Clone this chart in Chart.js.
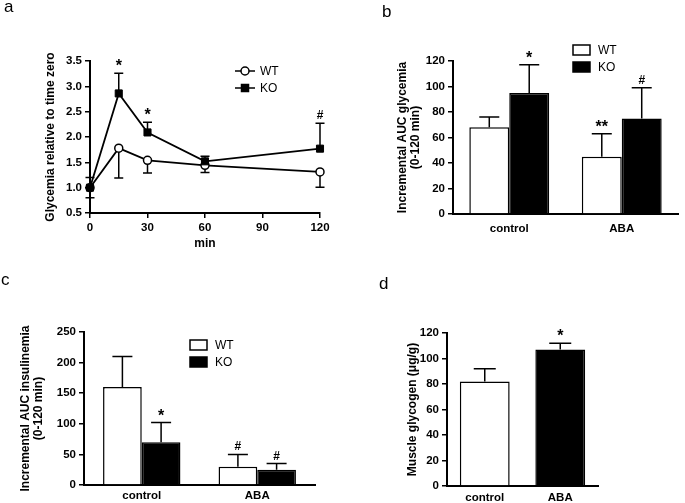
<!DOCTYPE html>
<html>
<head>
<meta charset="utf-8">
<script src="https://cdn.jsdelivr.net/npm/chart.js"></script>
<style>
  html, body { margin: 0; padding: 0; background: #fff; }
  body { width: 685px; height: 503px; position: relative; overflow: hidden; font-family: 'Liberation Sans', Arial, sans-serif; }
  canvas.panel { position: absolute; }
  .letter { position: absolute; font-size: 17px; line-height: 1; color: #000; }
</style>
</head>
<body>
<canvas id="chartA" class="panel" width="340" height="250" style="left:0;top:0"></canvas>
<canvas id="chartB" class="panel" width="345" height="250" style="left:340px;top:0"></canvas>
<canvas id="chartC" class="panel" width="340" height="253" style="left:0;top:250px"></canvas>
<canvas id="chartD" class="panel" width="285" height="253" style="left:400px;top:250px"></canvas>
<div class="letter" style="left:4px;top:-2px">a</div>
<div class="letter" style="left:382px;top:3px">b</div>
<div class="letter" style="left:1px;top:271px">c</div>
<div class="letter" style="left:379px;top:275px">d</div>
<script>
 "use strict";

 // ---- data ----
 // a: glycemia time course
 var minutes = [0, 15, 30, 60, 120];
 var glyWT = [1.0, 1.78, 1.54, 1.44, 1.31];
 var glyWTErr = [0.2, 0.59, 0.25, 0.14, 0.30];
 var glyKO = [1.0, 2.86, 2.09, 1.52, 1.77];
 var glyKOErr = [0.2, 0.40, 0.20, 0.10, 0.50];
 var glyKOMarks = ['', '*', '*', '', '#'];

 // b, c, d: groups
 var groups = ['control', 'ABA'];
 var aucGlyWT = [68, 45];
 var aucGlyWTErr = [8, 18];
 var aucGlyWTMarks = ['', '**'];
 var aucGlyKO = [95, 75];
 var aucGlyKOErr = [22, 24];
 var aucGlyKOMarks = ['*', '#'];

 var aucInsWT = [160, 30];
 var aucInsWTErr = [50, 20];
 var aucInsWTMarks = ['', '#'];
 var aucInsKO = [70, 25];
 var aucInsKOErr = [32, 10];
 var aucInsKOMarks = ['*', '#'];

 var glycogen = [82, 107];
 var glycogenErr = [10, 5];
 var glycogenMarks = ['', '*'];

 var FONT = "'Liberation Sans', Arial, sans-serif";
 var tickFont = { family: FONT, size: 11.5, weight: 'bold' };
 var titleFont = { family: FONT, size: 12, weight: 'bold', lineHeight: 1.1 };

 /*----------------------------------------*/
 /*  plugins: error bars, marks, legend
 /*----------------------------------------*/
 function valueOf(v) { return (v !== null && typeof v === 'object') ? v.y : v; }

 var errorBars = {
	id: 'errorBars',
	beforeDatasetsDraw: function (chart, args, opts) {
		var ctx = chart.ctx, y = chart.scales.y;
		chart.data.datasets.forEach(function (ds, i) {
			if (!ds.errors) return;
			var meta = chart.getDatasetMeta(i);
			ctx.save();
			ctx.strokeStyle = '#000';
			ctx.lineWidth = 1.5;
			meta.data.forEach(function (el, j) {
				var err = ds.errors[j];
				if (!err) return;
				var val = valueOf(ds.data[j]);
				var end = ds.errorDir === 'down' ? val - err : val + err;
				var py = y.getPixelForValue(end), base = y.getPixelForValue(val);
				var half = opts.cap / 2;
				ctx.beginPath();
				ctx.moveTo(el.x, base); ctx.lineTo(el.x, py);
				ctx.moveTo(el.x - half, py); ctx.lineTo(el.x + half, py);
				ctx.stroke();
			});
			ctx.restore();
		});
	}
 };

 var sigMarks = {
	id: 'sigMarks',
	afterDatasetsDraw: function (chart) {
		var ctx = chart.ctx, y = chart.scales.y;
		chart.data.datasets.forEach(function (ds, i) {
			if (!ds.marks) return;
			var meta = chart.getDatasetMeta(i);
			ctx.save();
			ctx.fillStyle = '#000';
			ctx.textAlign = 'center';
			ctx.textBaseline = 'alphabetic';
			meta.data.forEach(function (el, j) {
				var m = ds.marks[j];
				if (!m) return;
				var val = valueOf(ds.data[j]);
				var top = ds.errorDir === 'down' ? val : val + (ds.errors ? ds.errors[j] : 0);
				var star = m.indexOf('*') >= 0;
				ctx.font = star ? 'bold 16px ' + FONT : 'bold 12px ' + FONT;
				ctx.fillText(m, el.x, y.getPixelForValue(top) - (star ? 2 : 4));
			});
			ctx.restore();
		});
	}
 };

 var boxLegend = {
	id: 'boxLegend',
	afterDraw: function (chart, args, opts) {
		if (opts.x === undefined) return;
		var ctx = chart.ctx;
		ctx.save();
		chart.data.datasets.forEach(function (ds, i) {
			var cy = opts.y + i * opts.gap;
			ctx.strokeStyle = '#000';
			ctx.lineWidth = 1.5;
			if (opts.kind === 'line') {
				ctx.beginPath();
				ctx.moveTo(opts.x, cy); ctx.lineTo(opts.x + opts.w, cy);
				ctx.stroke();
				var cx = opts.x + opts.w / 2;
				ctx.beginPath();
				if (ds.pointStyle === 'rect') {
					ctx.rect(cx - 3.5, cy - 3.5, 7, 7);
				} else {
					ctx.arc(cx, cy, ds.pointRadius, 0, Math.PI * 2);
				}
				ctx.fillStyle = ds.pointBackgroundColor;
				ctx.fill();
				ctx.stroke();
			} else {
				ctx.fillStyle = ds.backgroundColor;
				ctx.fillRect(opts.x, cy - opts.h / 2, opts.w, opts.h);
				ctx.strokeRect(opts.x, cy - opts.h / 2, opts.w, opts.h);
			}
			ctx.fillStyle = '#000';
			ctx.font = '12px ' + FONT;
			ctx.textBaseline = 'middle';
			ctx.textAlign = 'left';
			ctx.fillText(ds.label, opts.x + opts.w + opts.pad, cy + 0.5);
		});
		ctx.restore();
	}
 };

 Chart.register(errorBars, sigMarks, boxLegend);
 Chart.defaults.font.family = FONT;
 Chart.defaults.color = '#000';

 function yAxis(min, max, step, width, title, fmt) {
	return {
		min: min, max: max,
		ticks: { stepSize: step, color: '#000', font: tickFont, padding: 3, callback: fmt },
		grid: { drawOnChartArea: false, color: '#000', tickLength: 5, lineWidth: 1.5 },
		border: { color: '#000', width: 2 },
		title: { display: true, text: title, color: '#000', font: titleFont, padding: { top: 0, bottom: 0 } },
		afterFit: function (s) { s.width = width; }
	};
 }

 function catAxis(height, pad) {
	return {
		type: 'category',
		ticks: { color: '#000', font: tickFont, padding: pad },
		grid: { display: false, drawTicks: false },
		border: { color: '#000', width: 2 },
		afterFit: function (s) { s.height = height; }
	};
 }

 function barSet(label, data, errs, marks, color) {
	return {
		label: label, data: data, errors: errs, marks: marks, errorDir: 'up',
		backgroundColor: color, borderColor: '#000', borderWidth: 1.5
	};
 }

 /*----------------------------------------*/
 /*  a.  glycemia line chart
 /*----------------------------------------*/
 var ctxA = document.getElementById('chartA');
 var chartA = new Chart(ctxA, {
	type: 'line',
	data: {
		datasets: [{
			label: 'WT',
			data: minutes.map(function (m, i) { return { x: m, y: glyWT[i] }; }),
			errors: glyWTErr, errorDir: 'down',
			borderColor: '#000', borderWidth: 1.8,
			pointStyle: 'circle', pointRadius: 4, pointBorderWidth: 1.5,
			pointBackgroundColor: '#fff', pointBorderColor: '#000',
			clip: false, order: 1
		}, {
			label: 'KO',
			data: minutes.map(function (m, i) { return { x: m, y: glyKO[i] }; }),
			errors: glyKOErr, errorDir: 'up', marks: glyKOMarks,
			borderColor: '#000', borderWidth: 1.8,
			pointStyle: 'rect', pointRadius: 5, pointBorderWidth: 1,
			pointBackgroundColor: '#000', pointBorderColor: '#000',
			clip: false, order: 0
		}]
	},
	options: {
		responsive: false,
		animation: false,
		layout: { padding: { left: 44, right: 20, top: 61, bottom: 0 } },
		scales: {
			x: {
				type: 'linear', min: 0, max: 120,
				ticks: { stepSize: 30, color: '#000', font: tickFont, padding: 3 },
				grid: { drawOnChartArea: false, color: '#000', tickLength: 5, lineWidth: 1.5 },
				border: { color: '#000', width: 2 },
				title: { display: true, text: 'min', color: '#000', font: titleFont, padding: { top: 0, bottom: 0 } },
				afterFit: function (s) { s.height = 37; }
			},
			y: yAxis(0.5, 3.5, 0.5, 46, 'Glycemia relative to time zero', function (v) { return v.toFixed(1); })
		},
		plugins: {
			legend: { display: false },
			tooltip: { enabled: false },
			errorBars: { cap: 9 },
			boxLegend: { kind: 'line', x: 235, y: 71, gap: 17, w: 20, pad: 5 }
		}
	}
 });

 /*----------------------------------------*/
 /*  b.  incremental AUC glycemia
 /*----------------------------------------*/
 var ctxB = document.getElementById('chartB');
 var chartB = new Chart(ctxB, {
	type: 'bar',
	data: {
		labels: groups,
		datasets: [
			barSet('WT', aucGlyWT, aucGlyWTErr, aucGlyWTMarks, '#fff'),
			barSet('KO', aucGlyKO, aucGlyKOErr, aucGlyKOMarks, '#000')
		]
	},
	options: {
		responsive: false,
		animation: false,
		datasets: { bar: { barPercentage: 1, categoryPercentage: 0.71 } },
		layout: { padding: { left: 56, right: 7, top: 61, bottom: 0 } },
		scales: {
			x: catAxis(36, 8),
			y: yAxis(0, 120, 20, 57, ['Incremental AUC glycemia', '(0-120 min)'])
		},
		plugins: {
			legend: { display: false },
			tooltip: { enabled: false },
			errorBars: { cap: 20 },
			boxLegend: { kind: 'box', x: 233, y: 50, gap: 17, w: 17, h: 10, pad: 8 }
		}
	}
 });

 /*----------------------------------------*/
 /*  c.  incremental AUC insulinemia
 /*----------------------------------------*/
 var ctxC = document.getElementById('chartC');
 var chartC = new Chart(ctxC, {
	type: 'bar',
	data: {
		labels: groups,
		datasets: [
			barSet('WT', aucInsWT, aucInsWTErr, aucInsWTMarks, '#fff'),
			barSet('KO', aucInsKO, aucInsKOErr, aucInsKOMarks, '#000')
		]
	},
	options: {
		responsive: false,
		animation: false,
		datasets: { bar: { barPercentage: 1, categoryPercentage: 0.67 } },
		layout: { padding: { left: 19, right: 25, top: 82, bottom: 0 } },
		scales: {
			x: catAxis(18, 4),
			y: yAxis(0, 250, 50, 65, ['Incremental AUC insulinemia', '(0-120 min)'])
		},
		plugins: {
			legend: { display: false },
			tooltip: { enabled: false },
			errorBars: { cap: 20 },
			boxLegend: { kind: 'box', x: 190, y: 95, gap: 17, w: 17, h: 10, pad: 8 }
		}
	}
 });

 /*----------------------------------------*/
 /*  d.  muscle glycogen
 /*----------------------------------------*/
 var ctxD = document.getElementById('chartD');
 var chartD = new Chart(ctxD, {
	type: 'bar',
	data: {
		labels: groups,
		datasets: [{
			label: 'glycogen', data: glycogen, errors: glycogenErr, marks: glycogenMarks, errorDir: 'up',
			backgroundColor: ['#fff', '#000'], borderColor: '#000', borderWidth: 1.5
		}]
	},
	options: {
		responsive: false,
		animation: false,
		datasets: { bar: { barPercentage: 1, categoryPercentage: 0.66 } },
		layout: { padding: { left: 6, right: 87, top: 83, bottom: 0 } },
		scales: {
			x: catAxis(17, 5),
			y: yAxis(0, 120, 20, 41, 'Muscle glycogen (\u03bcg/g)')
		},
		plugins: {
			legend: { display: false },
			tooltip: { enabled: false },
			errorBars: { cap: 22 }
		}
	}
 });
</script>
</body>
</html>
